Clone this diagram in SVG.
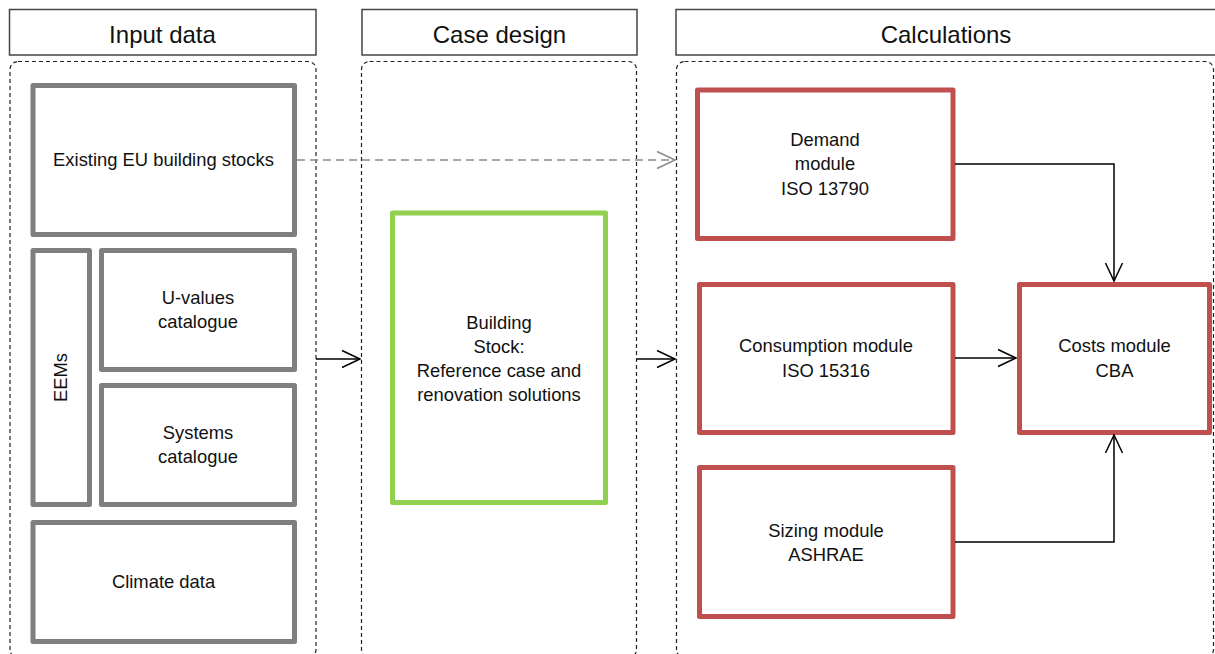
<svg xmlns="http://www.w3.org/2000/svg" width="1215" height="654" viewBox="0 0 1215 654">
<style>
.hdr{fill:#fff;stroke:#444;stroke-width:1.5}
.ht{font-family:"Liberation Sans",Arial,sans-serif;font-size:24px;fill:#111;text-anchor:middle}
.cont{fill:none;stroke:#222;stroke-width:1.2;stroke-dasharray:4,3}
.g{fill:#fff;stroke:#7f7f7f;stroke-width:5;stroke-linejoin:round}
.r{fill:#fff;stroke:#c0504d;stroke-width:5;stroke-linejoin:round}
.gr{fill:#fff;stroke:#92d050;stroke-width:5;stroke-linejoin:round}
.t{font-family:"Liberation Sans",Arial,sans-serif;font-size:18.4px;fill:#111;text-anchor:middle}
.c{fill:none;stroke:#000;stroke-width:1.5}
.cd{fill:none;stroke:#8a8a8a;stroke-width:1.5;stroke-dasharray:8,5}
</style>
<defs>
<marker id="ah" markerUnits="userSpaceOnUse" markerWidth="24" markerHeight="24" viewBox="-21 -12 24 24" refX="0" refY="0" orient="auto">
<path d="M-18,-8.5 L0,0 L-18,8.5" fill="none" stroke="#000" stroke-width="1.5"/>
</marker>
<marker id="ahg" markerUnits="userSpaceOnUse" markerWidth="24" markerHeight="24" viewBox="-21 -12 24 24" refX="0" refY="0" orient="auto">
<path d="M-18,-8.5 L0,0 L-18,8.5" fill="none" stroke="#8a8a8a" stroke-width="1.5"/>
</marker>
</defs>
<rect width="1215" height="654" fill="#fff"/>

<g id="header-input"><rect class="hdr" x="9.5" y="9.5" width="306.5" height="45.5"/><text class="ht" x="162.5" y="43">Input data</text></g>
<g id="header-case"><rect class="hdr" x="362" y="9.5" width="275" height="45.5"/><text class="ht" x="499.5" y="43">Case design</text></g>
<g id="header-calc"><rect class="hdr" x="676" y="9.5" width="545" height="45.5"/><text class="ht" x="946" y="43">Calculations</text></g>

<g id="container-input"><rect class="cont" x="10" y="61.5" width="306" height="596" rx="8"/></g>
<g id="container-case"><rect class="cont" x="361.5" y="61.5" width="275" height="596" rx="8"/></g>
<g id="container-calc"><rect class="cont" x="676.5" y="61.5" width="537" height="596" rx="8"/></g>

<g id="existing"><rect class="g" x="33" y="85.5" width="261.5" height="149"/><text class="t" x="163.5" y="166">Existing EU building stocks</text></g>
<g id="eems"><rect class="g" x="33" y="250.5" width="56.5" height="254"/><text class="t" transform="translate(67,377.5) rotate(-90)">EEMs</text></g>
<g id="uvalues"><rect class="g" x="101.5" y="250.5" width="193" height="119"/><text class="t" x="198" y="304">U-values</text><text class="t" x="198" y="328">catalogue</text></g>
<g id="systems"><rect class="g" x="101.5" y="385.5" width="193" height="119"/><text class="t" x="198" y="439">Systems</text><text class="t" x="198" y="463">catalogue</text></g>
<g id="climate"><rect class="g" x="33" y="522.5" width="261.5" height="119"/><text class="t" x="163.5" y="588">Climate data</text></g>

<g id="building-stock"><rect class="gr" x="392.5" y="213" width="213" height="289.5"/>
<text class="t" x="499" y="329">Building</text><text class="t" x="499" y="353">Stock:</text><text class="t" x="499" y="377">Reference case and</text><text class="t" x="499" y="401">renovation solutions</text></g>

<g id="demand"><rect class="r" x="697.5" y="90" width="255.5" height="148.5"/><text class="t" x="825" y="146">Demand</text><text class="t" x="825" y="170">module</text><text class="t" x="825" y="195">ISO 13790</text></g>
<g id="consumption"><rect class="r" x="699.5" y="284.5" width="253.5" height="148"/><text class="t" x="826" y="352">Consumption module</text><text class="t" x="826" y="377">ISO 15316</text></g>
<g id="sizing"><rect class="r" x="699.5" y="467.5" width="253.5" height="149"/><text class="t" x="826" y="537">Sizing module</text><text class="t" x="826" y="561">ASHRAE</text></g>
<g id="costs"><rect class="r" x="1019.5" y="284.5" width="190" height="148"/><text class="t" x="1114.5" y="352">Costs module</text><text class="t" x="1114.5" y="377">CBA</text></g>

<g id="connectors">
<path class="cd" d="M297,160 H675" marker-end="url(#ahg)"/>
<path class="c" d="M316,359 H360" marker-end="url(#ah)"/>
<path class="c" d="M637,359 H675" marker-end="url(#ah)"/>
<path class="c" d="M955,164 H1114 V281" marker-end="url(#ah)"/>
<path class="c" d="M955,358 H1016" marker-end="url(#ah)"/>
<path class="c" d="M955,542 H1114 V435" marker-end="url(#ah)"/>
</g>
</svg>
